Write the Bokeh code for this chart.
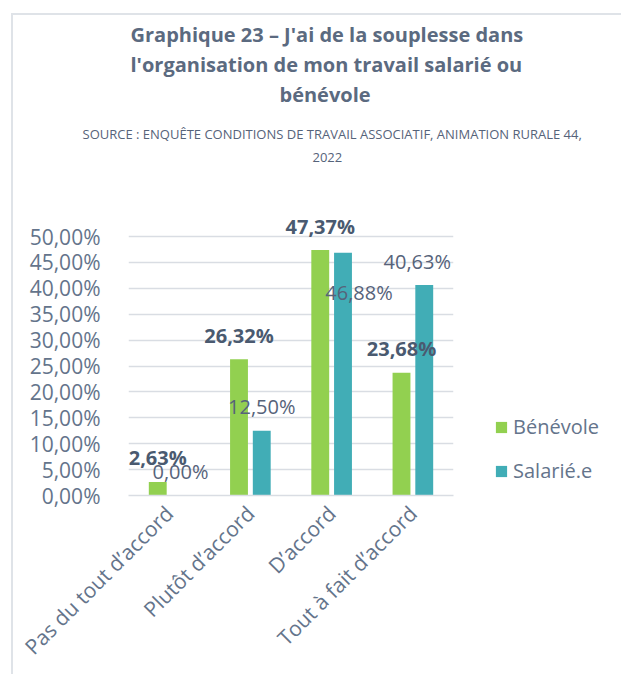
from bokeh.plotting import figure
from bokeh.models import (ColumnDataSource, Range1d, Title, Legend, LegendItem,
                          FixedTicker, CustomJSTickFormatter, LabelSet)
from bokeh.core.properties import value
from bokeh.transform import dodge
from bokeh.embed import file_html
from bokeh.resources import INLINE
from math import pi

# ---- data ----
categories = ["Pas du tout d\u2019accord", "Plut\u00f4t d\u2019accord", "D\u2019accord", "Tout \u00e0 fait d\u2019accord"]
benevole = [0.0263, 0.2632, 0.4737, 0.2368]
salarie = [0.0000, 0.1250, 0.4688, 0.4063]
benevole_labels = ["2,63%", "26,32%", "47,37%", "23,68%"]
salarie_labels = ["0,00%", "12,50%", "46,88%", "40,63%"]
series_names = ["B\u00e9n\u00e9vole", "Salari\u00e9.e"]
y_ticks = [0.0, 0.05, 0.10, 0.15, 0.20, 0.25, 0.30, 0.35, 0.40, 0.45, 0.50]
title_lines = ["Graphique 23 \u2013 J'ai de la souplesse dans",
               "l'organisation de mon travail salari\u00e9 ou",
               "b\u00e9n\u00e9vole"]
source_lines = ["SOURCE : ENQU\u00caTE CONDITIONS DE TRAVAIL ASSOCIATIF, ANIMATION RURALE 44,", "2022"]

# label placement tweaks (pixels), as in the original chart
salarie_label_dx = [0, 0, 16, -7]
salarie_label_dy = [24, 24, -40, 24]

FONT = "Open Sans"
GREEN = "#92d050"
TEAL = "#41adb6"
TITLE_C = "#5b6a80"
TICK_C = "#64748b"
BOLD_C = "#4a5a70"
NORM_C = "#56637a"
GRID_C = "#d9dde3"
BORDER_C = "#dfe3e8"

FRAME_H = 259          # pixel height of the 0..50% band
EXTRA_TOP = 30         # room above 50% for the data labels
src = ColumnDataSource(dict(
    cat=categories, ben=benevole, sal=salarie,
    ben_lab=benevole_labels, sal_lab=salarie_labels,
    sdx=salarie_label_dx, sdy=salarie_label_dy,
))

y_top = y_ticks[-1] * (FRAME_H + EXTRA_TOP) / FRAME_H
p = figure(x_range=categories, y_range=Range1d(0, y_top), title=None,
           frame_width=325, frame_height=FRAME_H + EXTRA_TOP,
           output_backend="svg", toolbar_location=None,
           min_border_left=128, min_border_right=160,
           min_border_top=236 - EXTRA_TOP, min_border_bottom=179)
p.outline_line_color = None
p.background_fill_color = None
p.border_fill_color = None
p.styles = {
    "background-image": f"linear-gradient({BORDER_C}, {BORDER_C}), linear-gradient({BORDER_C}, {BORDER_C})",
    "background-size": "2px 100%, 100% 2px",
    "background-position": "11px 13px, 11px 13px",
    "background-repeat": "no-repeat",
}

r1 = p.vbar(x=dodge("cat", -0.14, range=p.x_range), top="ben", width=0.22, source=src,
            fill_color=GREEN, line_color=None)
r2 = p.vbar(x=dodge("cat", 0.14, range=p.x_range), top="sal", width=0.22, source=src,
            fill_color=TEAL, line_color=None)

# data labels
p.add_layout(LabelSet(x=dodge("cat", -0.14, range=p.x_range), y="ben", text="ben_lab", source=src,
                      y_offset=24, text_align="center", text_baseline="middle",
                      text_font=value(FONT), text_font_size=value("20px"),
                      text_font_style=value("bold"), text_color=value(BOLD_C)))
p.add_layout(LabelSet(x=dodge("cat", 0.14, range=p.x_range), y="sal", text="sal_lab", source=src,
                      x_offset="sdx", y_offset="sdy", text_align="center", text_baseline="middle",
                      text_font=value(FONT), text_font_size=value("20px"), text_color=value(NORM_C)))

# axes
p.yaxis.ticker = FixedTicker(ticks=y_ticks)
p.yaxis.formatter = CustomJSTickFormatter(code="return (tick*100).toFixed(2).replace('.', ',') + '%';")
p.yaxis.axis_line_color = None
p.yaxis.major_tick_line_color = None
p.yaxis.minor_tick_line_color = None
p.yaxis.major_label_standoff = 22
p.yaxis.major_label_text_font = FONT
p.yaxis.major_label_text_font_size = "21px"
p.yaxis.major_label_text_color = TICK_C

p.xaxis.axis_line_color = GRID_C
p.xaxis.axis_line_width = 1.5
p.xaxis.major_tick_line_color = None
p.xaxis.minor_tick_line_color = None
p.xaxis.major_label_orientation = pi / 4
p.xaxis.major_label_standoff = 8
p.xaxis.major_label_text_font = FONT
p.xaxis.major_label_text_font_size = "21px"
p.xaxis.major_label_text_color = TICK_C

p.xgrid.grid_line_color = None
p.ygrid.grid_line_color = GRID_C
p.ygrid.grid_line_width = 1.5

# legend
legend = Legend(items=[LegendItem(label=series_names[0], renderers=[r1]),
                       LegendItem(label=series_names[1], renderers=[r2])],
                location=(41, 11), orientation="vertical",
                glyph_width=14, glyph_height=14, label_standoff=5, spacing=17,
                padding=0, margin=0, border_line_color=None, background_fill_alpha=0,
                label_text_font=FONT, label_text_font_size="20px", label_text_color=TICK_C)
p.add_layout(legend, "right")


def spacer(px):
    return Title(text=" ", text_font_size="1px", standoff=px)


def line(text, left, size, style, color, standoff=0):
    return Title(text=text, align="left", offset=left - 128, standoff=standoff,
                 text_font=FONT, text_font_size=size, text_font_style=style, text_color=color)


# title & source, stacked above the plot (added from the plot outward)
p.add_layout(spacer(42), "above")
p.add_layout(line(source_lines[1], 312, "13px", "normal", NORM_C), "above")
p.add_layout(spacer(5), "above")
p.add_layout(line(source_lines[0], 82, "13px", "normal", NORM_C), "above")
p.add_layout(spacer(11), "above")
p.add_layout(line(title_lines[2], 279, "20px", "bold", TITLE_C, 1), "above")
p.add_layout(line(title_lines[1], 130, "20px", "bold", TITLE_C, 1), "above")
p.add_layout(line(title_lines[0], 130, "20px", "bold", TITLE_C, 1), "above")

open("out.html", "w").write(file_html(p, INLINE))
